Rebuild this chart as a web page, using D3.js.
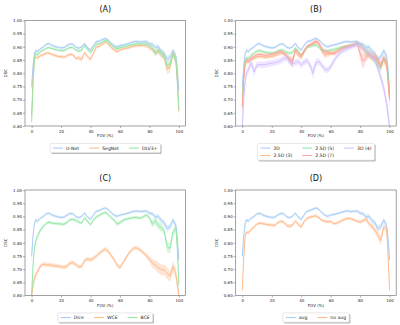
<!DOCTYPE html>
<html>
<head>
<meta charset="utf-8">
<script src="https://cdn.jsdelivr.net/npm/d3@7/dist/d3.min.js"></script>
<style>
  body { margin: 0; background: #fff; }
  text { font-family: "DejaVu Sans", sans-serif; }
</style>
</head>
<body>
<svg id="fig" width="400" height="325"></svg>
<script>
// FOV positions (%) where the curves were read
const fov = [0, 1, 2, 3,
  4, 6, 8, 10, 12, 14, 16, 18, 20, 22,
  24, 26, 28, 30, 32, 34, 36, 38, 40, 42,
  44, 46, 48, 50, 52, 54, 56, 58, 60, 62,
  64, 66, 68, 70, 72, 74, 76, 78, 80, 82,
  84, 86, 88, 90, 92, 94, 96, 98,
  99, 100];

// mean DSC curves
const unet = [0.749, 0.83, 0.876, 0.887,
  0.882, 0.893, 0.9, 0.91, 0.912, 0.905, 0.901, 0.898, 0.896, 0.897,
  0.905, 0.911, 0.91, 0.899, 0.895, 0.9, 0.913, 0.897, 0.888, 0.906,
  0.92, 0.922, 0.928, 0.932, 0.926, 0.914, 0.905, 0.9, 0.905, 0.907,
  0.91, 0.913, 0.917, 0.92, 0.92, 0.918, 0.92, 0.92, 0.912, 0.91,
  0.898, 0.9, 0.884, 0.876, 0.853, 0.86, 0.886, 0.865,
  0.815, 0.735];
const segnet = [0.64, 0.78, 0.855, 0.862,
  0.858, 0.866, 0.871, 0.876, 0.876, 0.871, 0.867, 0.864, 0.863, 0.861,
  0.866, 0.872, 0.87, 0.856, 0.858, 0.852, 0.878, 0.863, 0.853, 0.876,
  0.9, 0.902, 0.91, 0.918, 0.912, 0.898, 0.888, 0.882, 0.889, 0.892,
  0.894, 0.897, 0.901, 0.904, 0.905, 0.905, 0.906, 0.904, 0.896, 0.889,
  0.878, 0.882, 0.87, 0.86, 0.815, 0.822, 0.876, 0.845,
  0.76, 0.655];
const dlv3 = [0.615, 0.77, 0.865, 0.875,
  0.87, 0.882, 0.888, 0.895, 0.897, 0.893, 0.89, 0.887, 0.886, 0.886,
  0.892, 0.898, 0.897, 0.888, 0.884, 0.888, 0.905, 0.89, 0.878, 0.895,
  0.91, 0.912, 0.918, 0.925, 0.92, 0.907, 0.897, 0.893, 0.897, 0.9,
  0.902, 0.905, 0.908, 0.91, 0.912, 0.911, 0.912, 0.912, 0.905, 0.897,
  0.875, 0.888, 0.875, 0.868, 0.83, 0.835, 0.872, 0.85,
  0.77, 0.66];
const d25_3 = [0.68, 0.79, 0.838, 0.845,
  0.842, 0.852, 0.857, 0.862, 0.864, 0.862, 0.86, 0.862, 0.864, 0.866,
  0.872, 0.876, 0.874, 0.866, 0.855, 0.848, 0.882, 0.868, 0.858, 0.88,
  0.9, 0.905, 0.912, 0.918, 0.91, 0.885, 0.868, 0.872, 0.876, 0.878,
  0.886, 0.892, 0.897, 0.9, 0.903, 0.905, 0.908, 0.915, 0.905, 0.895,
  0.878, 0.872, 0.865, 0.86, 0.84, 0.825, 0.85, 0.83,
  0.77, 0.7];
const d25_5 = [0.7, 0.8, 0.85, 0.858,
  0.856, 0.868, 0.876, 0.884, 0.886, 0.882, 0.879, 0.877, 0.876, 0.877,
  0.884, 0.888, 0.886, 0.879, 0.876, 0.878, 0.896, 0.883, 0.868, 0.886,
  0.9, 0.903, 0.905, 0.907, 0.898, 0.888, 0.884, 0.885, 0.888, 0.89,
  0.893, 0.896, 0.899, 0.901, 0.903, 0.905, 0.907, 0.914, 0.908, 0.896,
  0.882, 0.875, 0.862, 0.85, 0.83, 0.82, 0.858, 0.84,
  0.79, 0.72];
const d25_7 = [0.67, 0.78, 0.84, 0.85,
  0.847, 0.858, 0.864, 0.87, 0.872, 0.87, 0.868, 0.87, 0.872, 0.874,
  0.879, 0.882, 0.878, 0.868, 0.85, 0.838, 0.89, 0.878, 0.866, 0.885,
  0.902, 0.908, 0.915, 0.922, 0.915, 0.893, 0.882, 0.878, 0.876, 0.874,
  0.878, 0.886, 0.894, 0.899, 0.902, 0.905, 0.907, 0.912, 0.875, 0.845,
  0.86, 0.872, 0.862, 0.86, 0.852, 0.83, 0.86, 0.84,
  0.77, 0.7];
const d3_4 = [0.6, 0.71, 0.772, 0.805,
  0.81, 0.84, 0.805, 0.832, 0.833, 0.832, 0.834, 0.836, 0.838, 0.84,
  0.843, 0.848, 0.855, 0.858, 0.845, 0.835, 0.84, 0.845, 0.832, 0.842,
  0.848, 0.83, 0.8, 0.84, 0.845, 0.83, 0.815, 0.812, 0.825, 0.845,
  0.862, 0.875, 0.885, 0.89, 0.895, 0.9, 0.905, 0.91, 0.905, 0.895,
  0.885, 0.875, 0.865, 0.85, 0.82, 0.785, 0.745, 0.685,
  0.64, 0.6];
const bce = [0.6, 0.72, 0.785, 0.81,
  0.825, 0.848, 0.862, 0.874, 0.878, 0.874, 0.873, 0.872, 0.871, 0.87,
  0.877, 0.887, 0.889, 0.885, 0.879, 0.874, 0.895, 0.88, 0.869, 0.887,
  0.898, 0.904, 0.91, 0.915, 0.907, 0.895, 0.886, 0.871, 0.876, 0.885,
  0.889, 0.892, 0.894, 0.896, 0.895, 0.893, 0.899, 0.905, 0.895, 0.87,
  0.884, 0.866, 0.858, 0.845, 0.785, 0.778, 0.84, 0.855,
  0.77, 0.64];
const wce = [0.6, 0.64, 0.668, 0.68,
  0.69, 0.712, 0.719, 0.716, 0.716, 0.714, 0.712, 0.711, 0.709, 0.707,
  0.711, 0.722, 0.725, 0.717, 0.709, 0.71, 0.733, 0.738, 0.735, 0.741,
  0.75, 0.76, 0.769, 0.776, 0.767, 0.752, 0.737, 0.715, 0.706, 0.724,
  0.742, 0.76, 0.773, 0.781, 0.779, 0.771, 0.762, 0.75, 0.738, 0.722,
  0.715, 0.705, 0.698, 0.697, 0.685, 0.672, 0.71, 0.68,
  0.64, 0.6];
const noaug = [0.62, 0.75, 0.83, 0.84,
  0.838, 0.85, 0.86, 0.871, 0.875, 0.872, 0.87, 0.868, 0.867, 0.866,
  0.875, 0.882, 0.878, 0.867, 0.862, 0.866, 0.882, 0.87, 0.86, 0.88,
  0.893, 0.897, 0.9, 0.902, 0.895, 0.885, 0.882, 0.879, 0.881, 0.872,
  0.874, 0.879, 0.885, 0.89, 0.893, 0.89, 0.886, 0.882, 0.878, 0.884,
  0.89, 0.872, 0.862, 0.848, 0.83, 0.808, 0.86, 0.85,
  0.75, 0.62];

// half width of the shaded band, in thousandths of DSC
const unetSd = [25, 15, 8, 6,
  6, 5, 5, 5, 5, 5, 5, 5, 5, 5,
  5, 5, 5, 5, 5, 5, 5, 5, 5, 5,
  5, 5, 5, 5, 5, 5, 5, 5, 5, 5,
  5, 5, 5, 5, 5, 5, 5, 6, 7, 8,
  9, 10, 10, 10, 12, 12, 10, 12,
  15, 20];
const segnetSd = [25, 15, 8, 7,
  7, 6, 6, 6, 6, 6, 6, 6, 6, 6,
  6, 6, 6, 7, 8, 9, 7, 7, 8, 7,
  6, 6, 6, 6, 6, 6, 6, 7, 6, 6,
  6, 6, 6, 6, 6, 6, 6, 6, 7, 8,
  10, 10, 12, 12, 20, 18, 12, 15,
  20, 25];
const dlv3Sd = [30, 15, 8, 6,
  6, 5, 5, 5, 5, 5, 5, 5, 5, 5,
  5, 5, 5, 5, 6, 6, 5, 6, 6, 5,
  5, 5, 5, 5, 5, 5, 5, 5, 5, 5,
  5, 5, 5, 5, 5, 5, 5, 5, 7, 8,
  12, 10, 12, 12, 15, 15, 12, 15,
  20, 30];
const d25_3Sd = [30, 15, 10, 8,
  8, 7, 7, 7, 7, 7, 7, 7, 7, 7,
  7, 7, 7, 8, 10, 10, 8, 8, 8, 8,
  7, 7, 7, 7, 8, 10, 12, 10, 8, 8,
  7, 7, 7, 7, 7, 7, 7, 7, 10, 12,
  15, 15, 15, 15, 15, 15, 15, 18,
  20, 30];
const d25_5Sd = [30, 15, 10, 7,
  7, 6, 6, 6, 6, 6, 6, 6, 6, 6,
  6, 6, 6, 6, 6, 6, 6, 6, 7, 6,
  6, 6, 6, 6, 6, 6, 6, 6, 6, 6,
  6, 6, 6, 6, 6, 6, 6, 6, 8, 10,
  15, 15, 15, 15, 18, 15, 12, 15,
  20, 30];
const d25_7Sd = [30, 15, 10, 8,
  8, 7, 7, 7, 7, 7, 7, 7, 7, 7,
  7, 7, 7, 8, 15, 18, 8, 8, 8, 8,
  7, 7, 7, 7, 8, 10, 10, 10, 8, 8,
  7, 7, 7, 7, 7, 7, 7, 8, 25, 30,
  15, 12, 12, 12, 15, 15, 12, 15,
  20, 30];
const d3_4Sd = [40, 30, 20, 15,
  15, 15, 18, 12, 12, 12, 12, 12, 12, 12,
  12, 12, 12, 12, 12, 12, 12, 12, 12, 12,
  12, 12, 20, 15, 12, 12, 12, 12, 12, 12,
  10, 10, 10, 10, 10, 10, 10, 10, 10, 10,
  10, 10, 12, 12, 15, 18, 20, 25,
  30, 35];
const bceSd = [30, 20, 15, 12,
  10, 8, 7, 6, 6, 6, 6, 6, 6, 6,
  6, 6, 6, 6, 6, 6, 6, 6, 6, 6,
  6, 6, 6, 6, 6, 6, 6, 8, 7, 6,
  6, 6, 6, 6, 6, 6, 6, 6, 8, 12,
  15, 15, 15, 15, 20, 20, 15, 15,
  20, 25];
const wceSd = [20, 15, 12, 10,
  10, 8, 8, 8, 8, 8, 8, 8, 8, 8,
  8, 8, 8, 8, 8, 8, 8, 8, 8, 8,
  8, 8, 8, 8, 8, 8, 8, 8, 8, 8,
  8, 8, 8, 8, 8, 8, 8, 10, 12, 15,
  18, 20, 20, 20, 22, 22, 20, 22,
  25, 25];
const noaugSd = [25, 20, 10, 8,
  7, 6, 6, 6, 6, 6, 6, 6, 6, 6,
  6, 6, 6, 7, 7, 7, 6, 7, 7, 6,
  6, 6, 6, 6, 6, 6, 6, 6, 6, 6,
  6, 6, 6, 6, 6, 6, 6, 6, 7, 8,
  10, 10, 10, 12, 15, 18, 12, 12,
  20, 25];

const xTicks = [0, 20, 40, 60, 80, 100];
const yTicks = [0.60, 0.65, 0.70, 0.75, 0.80, 0.85, 0.90, 0.95, 1.00];

const pastel = { blue: "#a1c9f4", orange: "#ffb482", green: "#8de5a1", red: "#ff9f9b", purple: "#d0bbff" };

const panels = [
  { title: "(A)", left: 25, top: 20.5, ncol: 3, series: [
      ["U-Net", unet, unetSd, pastel.blue],
      ["SegNet", segnet, segnetSd, pastel.orange],
      ["DLV3+", dlv3, dlv3Sd, pastel.green]] },
  { title: "(B)", left: 235.7, top: 20.5, ncol: 3, series: [
      ["2D", unet, unetSd, pastel.blue],
      ["2.5D (3)", d25_3, d25_3Sd, pastel.orange],
      ["2.5D (5)", d25_5, d25_5Sd, pastel.green],
      ["2.5D (7)", d25_7, d25_7Sd, pastel.red],
      ["3D (4)", d3_4, d3_4Sd, pastel.purple]] },
  { title: "(C)", left: 25, top: 190, ncol: 3, series: [
      ["Dice", unet, unetSd, pastel.blue],
      ["WCE", wce, wceSd, pastel.orange],
      ["BCE", bce, bceSd, pastel.green]] },
  { title: "(D)", left: 235.7, top: 190, ncol: 2, series: [
      ["aug", unet, unetSd, pastel.blue],
      ["no aug", noaug, noaugSd, pastel.orange]] }
];

const axW = 160.5, axH = 105.5;
const spine = "#7a7a7a";
const svg = d3.select("#fig");

panels.forEach((p, i) => drawPanel(p, i));

function drawPanel(p, i) {
  const x = d3.scaleLinear().domain([-4.5, 104.5]).range([p.left, p.left + axW]);
  const y = d3.scaleLinear().domain([0.6, 1.0]).range([p.top + axH, p.top]);
  const g = svg.append("g");

  g.append("clipPath").attr("id", "clip" + i)
    .append("rect")
      .attr("x", p.left).attr("y", p.top)
      .attr("width", axW).attr("height", axH);

  const plot = g.append("g").attr("clip-path", "url(#clip" + i + ")");

  p.series.forEach(s => {
    const vals = s[1], sd = s[2];
    const band = d3.area()
      .x((d, j) => x(fov[j]))
      .y0((d, j) => y(vals[j] - sd[j] / 1000))
      .y1((d, j) => y(vals[j] + sd[j] / 1000));
    const line = d3.line()
      .x((d, j) => x(fov[j]))
      .y((d, j) => y(vals[j]));
    plot.append("path").datum(vals)
      .attr("d", band)
      .attr("fill", s[3]).attr("fill-opacity", 0.35);
    plot.append("path").datum(vals)
      .attr("d", line)
      .attr("fill", "none").attr("stroke", s[3]).attr("stroke-width", 0.9);
  });

  // axes
  const xAxis = g.append("g")
    .attr("transform", "translate(0," + (p.top + axH) + ")")
    .call(d3.axisBottom(x).tickValues(xTicks).tickSize(2).tickSizeOuter(0).tickPadding(1.9));
  const yAxis = g.append("g")
    .attr("transform", "translate(" + p.left + ",0)")
    .call(d3.axisLeft(y).tickValues(yTicks).tickFormat(d3.format(".2f")).tickSize(2).tickSizeOuter(0).tickPadding(1));
  [xAxis, yAxis].forEach(a => {
    a.attr("font-size", 4).attr("font-family", "DejaVu Sans, sans-serif");
    a.select(".domain").remove();
    a.selectAll(".tick line").attr("stroke", spine).attr("stroke-width", 0.6);
    a.selectAll(".tick text").attr("fill", "#222");
  });

  g.append("rect")
    .attr("x", p.left).attr("y", p.top)
    .attr("width", axW).attr("height", axH)
    .attr("fill", "none").attr("stroke", spine).attr("stroke-width", 0.7);

  g.append("text")
    .attr("x", p.left + axW / 2).attr("y", p.top - 9)
    .attr("text-anchor", "middle").attr("font-size", 8).attr("fill", "#111")
    .text(p.title);

  g.append("text")
    .attr("x", p.left + axW / 2).attr("y", p.top + axH + 11.4)
    .attr("text-anchor", "middle").attr("font-size", 4).attr("fill", "#222")
    .text("FOV (%)");

  g.append("text")
    .attr("transform", "translate(" + (p.left - 18) + "," + (p.top + axH / 2) + ") rotate(-90)")
    .attr("text-anchor", "middle").attr("font-size", 4).attr("fill", "#222")
    .text("DSC");

  drawLegend(p, p.left + axW / 2, p.top + axH + 17.4);
}

function drawLegend(p, xc, top) {
  const fs = 4.6, pad = 2.2, hLen = 10, hPad = 3, colSp = 10, rowH = 5, rowGap = 2.4;
  const lg = svg.append("g");
  const nrow = Math.ceil(p.series.length / p.ncol);
  const cols = d3.range(p.ncol).map(c => p.series.slice(c * nrow, c * nrow + nrow));

  const probe = lg.append("text").attr("font-size", fs);
  const colW = cols.map(col => d3.max(col, s => {
    probe.text(s[0]);
    return probe.node().getComputedTextLength();
  }));
  probe.remove();

  const w = 2 * 3 + d3.sum(colW) + p.ncol * (hLen + hPad) + (p.ncol - 1) * colSp;
  const h = 2 * pad + nrow * rowH + (nrow - 1) * rowGap;
  const x0 = xc - w / 2;

  lg.append("rect")
    .attr("x", x0 + 1.2).attr("y", top + 1.2).attr("width", w).attr("height", h)
    .attr("rx", 1.2).attr("fill", "#000").attr("fill-opacity", 0.28);
  lg.append("rect")
    .attr("x", x0).attr("y", top).attr("width", w).attr("height", h)
    .attr("rx", 1.2).attr("fill", "#fff").attr("stroke", "#d0d0d0").attr("stroke-width", 0.5);

  let cx = x0 + 3;
  cols.forEach((col, c) => {
    col.forEach((s, r) => {
      const cy = top + pad + rowH / 2 + r * (rowH + rowGap);
      lg.append("line")
        .attr("x1", cx).attr("x2", cx + hLen).attr("y1", cy).attr("y2", cy)
        .attr("stroke", s[3]).attr("stroke-width", 1);
      lg.append("text")
        .attr("x", cx + hLen + hPad).attr("y", cy).attr("dy", "0.35em")
        .attr("font-size", fs).attr("fill", "#222")
        .text(s[0]);
    });
    cx += hLen + hPad + colW[c] + colSp;
  });
}
</script>
</body>
</html>
